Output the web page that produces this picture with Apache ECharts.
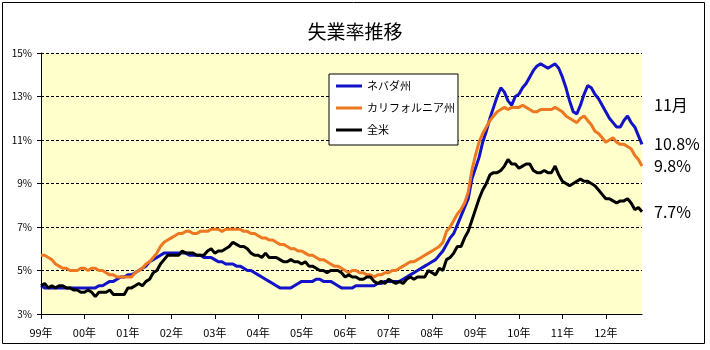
<!DOCTYPE html>
<html>
<head>
<meta charset="utf-8">
<script src="https://cdn.jsdelivr.net/npm/echarts@6/dist/echarts.min.js"></script>
<style>
  html, body { margin: 0; padding: 0; background: #ffffff; }
  #chart { width: 710px; height: 350px; }
</style>
</head>
<body>
<div id="chart"></div>
<script>
// Monthly unemployment rate (%), Jan 1999 – Nov 2012
const yearLabels = ['99年', '00年', '01年', '02年', '03年', '04年', '05年',
                    '06年', '07年', '08年', '09年', '10年', '11年', '12年'];
const seriesNames = ['ネバダ州', 'カリフォルニア州', '全米'];
const latestMonth = '11月';

const nevada = [
  4.3, 4.2, 4.2, 4.2, 4.2, 4.2, 4.2, 4.2, 4.2, 4.2, 4.2, 4.2,
  4.2, 4.2, 4.2, 4.2, 4.3, 4.3, 4.4, 4.5, 4.5, 4.6, 4.7, 4.7,
  4.8, 4.8, 4.9, 5.0, 5.1, 5.2, 5.4, 5.5, 5.6, 5.7, 5.8, 5.8,
  5.8, 5.8, 5.8, 5.8, 5.8, 5.7, 5.7, 5.7, 5.7, 5.6, 5.6, 5.6,
  5.5, 5.4, 5.4, 5.3, 5.3, 5.3, 5.2, 5.2, 5.1, 5.0, 5.0, 4.9,
  4.8, 4.7, 4.6, 4.5, 4.4, 4.3, 4.2, 4.2, 4.2, 4.2, 4.3, 4.4,
  4.5, 4.5, 4.5, 4.5, 4.6, 4.6, 4.5, 4.5, 4.5, 4.4, 4.3, 4.2,
  4.2, 4.2, 4.2, 4.3, 4.3, 4.3, 4.3, 4.3, 4.3, 4.4, 4.4, 4.5,
  4.5, 4.5, 4.5, 4.5, 4.6, 4.7, 4.8, 4.9, 5.0, 5.1, 5.2, 5.3,
  5.4, 5.5, 5.7, 5.9, 6.2, 6.5, 6.7, 7.1, 7.5, 7.9, 8.3, 9.2,
  9.7, 10.2, 10.9, 11.4, 12.0, 12.5, 13.0, 13.4, 13.2, 12.8, 12.6, 13.0,
  13.1, 13.4, 13.6, 13.9, 14.2, 14.4, 14.5, 14.4, 14.3, 14.4, 14.5, 14.3,
  13.9, 13.4, 12.8, 12.3, 12.2, 12.6, 13.1, 13.5, 13.4, 13.1, 12.9, 12.6,
  12.3, 12.0, 11.8, 11.6, 11.6, 11.9, 12.1, 11.8, 11.6, 11.2, 10.8
];

const california = [
  5.7, 5.7, 5.6, 5.5, 5.3, 5.2, 5.1, 5.1, 5.0, 5.0, 5.0, 5.1,
  5.1, 5.0, 5.1, 5.1, 5.0, 5.0, 4.9, 4.8, 4.8, 4.7, 4.7, 4.7,
  4.7, 4.7, 4.9, 5.0, 5.1, 5.3, 5.4, 5.6, 5.8, 6.1, 6.3, 6.4,
  6.5, 6.6, 6.7, 6.7, 6.8, 6.8, 6.7, 6.7, 6.8, 6.8, 6.8, 6.9,
  6.9, 6.9, 6.8, 6.9, 6.9, 6.9, 6.9, 6.9, 6.8, 6.8, 6.7, 6.7,
  6.6, 6.5, 6.5, 6.4, 6.4, 6.3, 6.2, 6.2, 6.1, 6.0, 6.0, 5.9,
  5.9, 5.8, 5.7, 5.7, 5.6, 5.5, 5.5, 5.4, 5.3, 5.2, 5.2, 5.1,
  5.0, 4.9, 5.0, 5.0, 4.9, 4.9, 4.8, 4.8, 4.7, 4.8, 4.8, 4.9,
  4.9, 5.0, 5.0, 5.1, 5.2, 5.3, 5.4, 5.4, 5.5, 5.6, 5.7, 5.8,
  5.9, 6.0, 6.1, 6.3, 6.8, 7.0, 7.3, 7.6, 7.8, 8.1, 8.6, 9.6,
  10.3, 10.9, 11.3, 11.6, 11.9, 12.1, 12.3, 12.4, 12.5, 12.4, 12.5, 12.5,
  12.5, 12.6, 12.5, 12.4, 12.3, 12.3, 12.4, 12.4, 12.4, 12.4, 12.5, 12.4,
  12.3, 12.1, 12.0, 11.9, 11.8, 12.0, 12.1, 11.9, 11.7, 11.4, 11.3, 11.1,
  10.9, 11.0, 11.1, 10.9, 10.8, 10.8, 10.7, 10.6, 10.3, 10.1, 9.8
];

const usa = [
  4.3, 4.4, 4.2, 4.3, 4.2, 4.3, 4.3, 4.2, 4.2, 4.1, 4.1, 4.0,
  4.0, 4.1, 4.0, 3.8, 4.0, 4.0, 4.0, 4.1, 3.9, 3.9, 3.9, 3.9,
  4.2, 4.2, 4.3, 4.4, 4.3, 4.5, 4.6, 4.9, 5.0, 5.3, 5.5, 5.7,
  5.7, 5.7, 5.7, 5.9, 5.8, 5.8, 5.8, 5.7, 5.7, 5.7, 5.9, 6.0,
  5.8, 5.9, 5.9, 6.0, 6.1, 6.3, 6.2, 6.1, 6.1, 6.0, 5.8, 5.7,
  5.7, 5.6, 5.8, 5.6, 5.6, 5.6, 5.5, 5.4, 5.4, 5.5, 5.4, 5.4,
  5.3, 5.4, 5.2, 5.2, 5.1, 5.0, 5.0, 4.9, 5.0, 5.0, 5.0, 4.9,
  4.7, 4.8, 4.7, 4.7, 4.6, 4.6, 4.7, 4.7, 4.5, 4.4, 4.5, 4.4,
  4.6, 4.5, 4.4, 4.5, 4.4, 4.6, 4.7, 4.6, 4.7, 4.7, 4.7, 5.0,
  4.9, 4.8, 5.1, 5.0, 5.5, 5.6, 5.8, 6.1, 6.1, 6.5, 6.8, 7.3,
  7.8, 8.3, 8.7, 9.0, 9.4, 9.5, 9.5, 9.6, 9.8, 10.1, 9.9, 9.9,
  9.7, 9.8, 9.9, 9.9, 9.6, 9.5, 9.5, 9.6, 9.5, 9.5, 9.8, 9.4,
  9.1, 9.0, 8.9, 9.0, 9.1, 9.2, 9.1, 9.1, 9.0, 8.9, 8.7, 8.5,
  8.3, 8.3, 8.2, 8.1, 8.2, 8.2, 8.3, 8.1, 7.8, 7.9, 7.7
];

const seriesColors = ['#1212C8', '#EE7722', '#000000'];

// one category per month, labelled by year on January ticks
const months = nevada.map((_, i) => (1999 + Math.floor(i / 12)) + '/' + (i % 12 + 1));
const isJanuary = (index) => index % 12 === 0;

const FONT = '"Noto Sans CJK JP", "Noto Sans", sans-serif';

const chart = echarts.init(document.getElementById('chart'), null, { renderer: 'canvas' });

const makeSeries = (name, data, color) => ({
  name: name,
  type: 'line',
  data: data,
  symbol: 'none',
  smooth: false,
  lineStyle: { color: color, width: 3 },
  itemStyle: { color: color },
  endLabel: {
    show: true,
    distance: 12,
    formatter: (p) => Number(p.value).toFixed(1) + '%',
    color: '#000',
    fontSize: 16,
    fontFamily: FONT
  }
});

chart.setOption({
  animation: false,
  backgroundColor: '#ffffff',
  title: {
    text: '失業率推移',
    left: 'center',
    top: 17,
    textStyle: { fontSize: 19, fontWeight: 'normal', color: '#000', fontFamily: FONT }
  },
  legend: {
    orient: 'vertical',
    left: 329,
    top: 74,
    padding: [5, 3, 8, 7],
    itemWidth: 26,
    itemHeight: 3,
    itemGap: 8,
    icon: 'rect',
    backgroundColor: '#ffffff',
    borderColor: '#000',
    borderWidth: 1,
    data: seriesNames,
    textStyle: { fontSize: 11, color: '#000', fontFamily: FONT, lineHeight: 14 }
  },
  grid: {
    left: 41,
    right: 68,
    top: 53,
    bottom: 36,
    show: true,
    backgroundColor: '#FFFFCC',
    borderWidth: 0
  },
  xAxis: {
    type: 'category',
    data: months,
    boundaryGap: false,
    axisLine: { lineStyle: { color: '#000', width: 1 } },
    axisTick: { interval: isJanuary, length: 5, lineStyle: { color: '#000' } },
    axisLabel: {
      interval: isJanuary,
      formatter: (value, index) => yearLabels[Math.floor(index / 12)],
      margin: 13,
      fontSize: 11,
      color: '#000',
      fontFamily: FONT
    },
    splitLine: { show: false }
  },
  yAxis: {
    type: 'value',
    min: 3,
    max: 15,
    interval: 2,
    axisLine: { show: true, lineStyle: { color: '#000', width: 1 } },
    axisTick: { show: true, length: 4, lineStyle: { color: '#000' } },
    axisLabel: {
      formatter: '{value}%',
      margin: 9,
      fontSize: 10,
      color: '#000',
      fontFamily: FONT
    },
    splitLine: { show: true, lineStyle: { color: '#000', width: 1, type: [3, 2] } }
  },
  series: [
    makeSeries(seriesNames[0], nevada, seriesColors[0]),
    makeSeries(seriesNames[1], california, seriesColors[1]),
    makeSeries(seriesNames[2], usa, seriesColors[2])
  ],
  graphic: [
    {
      type: 'rect',
      silent: true,
      shape: { x: 2.5, y: 2.5, width: 702, height: 341 },
      style: { fill: 'none', stroke: '#000', lineWidth: 1 }
    },
    {
      type: 'text',
      left: 654,
      top: 97,
      silent: true,
      style: { text: latestMonth, fill: '#000', font: '16px ' + FONT }
    }
  ]
});
</script>
</body>
</html>
